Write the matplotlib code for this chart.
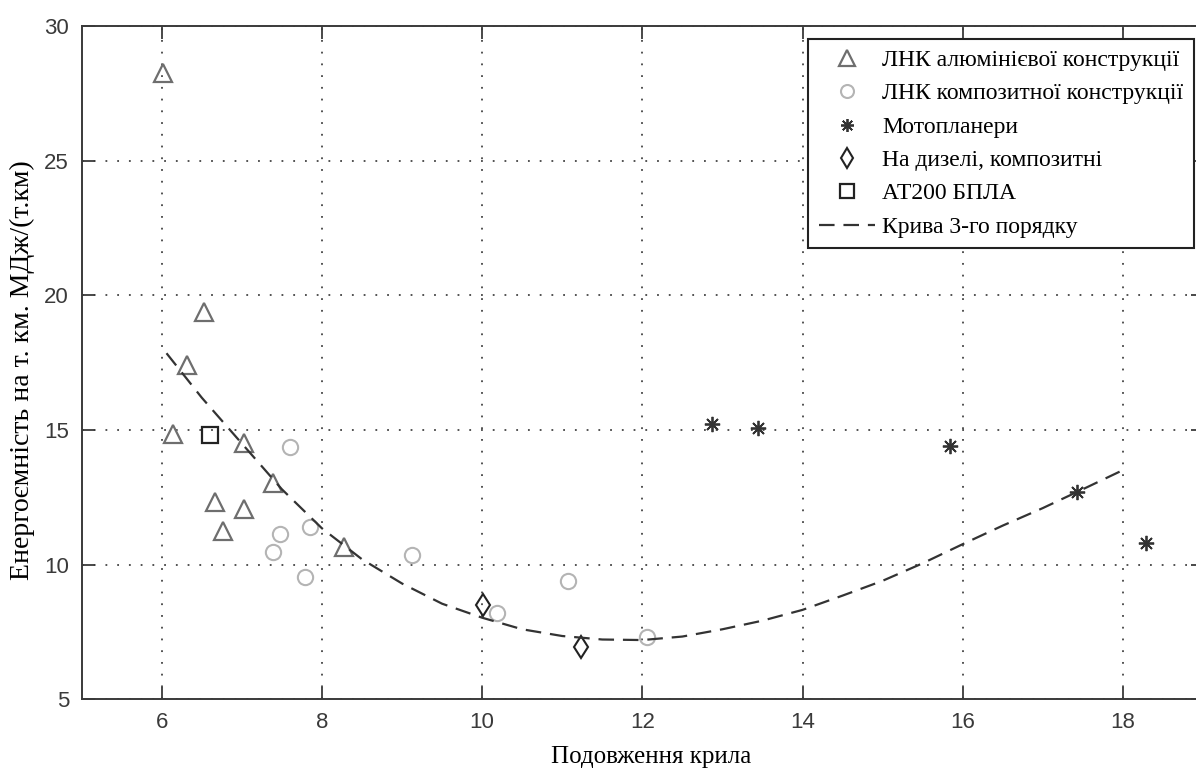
import numpy as np
import matplotlib
matplotlib.use('Agg')
import matplotlib.pyplot as plt

# Data
alu_x = [6.02, 6.53, 6.32, 6.14, 7.03, 6.66, 7.03, 6.76, 7.39, 8.27]
alu_y = [28.25, 19.39, 17.41, 14.84, 14.51, 12.32, 12.06, 11.26, 13.02, 10.64]

comp_x = [7.60, 7.48, 7.39, 7.79, 7.85, 9.13, 10.18, 11.07, 12.06]
comp_y = [14.38, 11.14, 10.48, 9.55, 11.39, 10.37, 8.19, 9.40, 7.32]

glider_x = [12.87, 13.44, 15.84, 17.43, 18.29]
glider_y = [15.21, 15.06, 14.42, 12.71, 10.81]

diesel_x = [10.01, 11.23]
diesel_y = [8.50, 6.95]

uav_x = [6.60]
uav_y = [14.81]

curve_x = [6.06, 6.5, 7.0, 7.5, 8.0, 8.5, 9.0, 9.5, 10.0, 10.5, 11.0, 11.5, 12.0,
           12.5, 13.0, 13.5, 14.0, 14.5, 15.0, 15.5, 16.0, 16.5, 17.0, 17.5, 18.0]
curve_y = [17.85, 16.2, 14.5, 12.8, 11.35, 10.2, 9.3, 8.55, 8.03, 7.6, 7.35, 7.22, 7.2,
           7.33, 7.6, 7.92, 8.32, 8.85, 9.4, 10.05, 10.76, 11.45, 12.1, 12.8, 13.51]

labels = ['ЛНК алюмінієвої конструкції', 'ЛНК композитної конструкції', 'Мотопланери',
          'На дизелі, композитні', 'АТ200 БПЛА', 'Крива 3-го порядку']

serif = 'Liberation Serif'
sans = 'Liberation Sans'

fig = plt.figure(figsize=(11.96, 7.69), dpi=100)
# right spine (x=19) sits just past the image edge, as in the reference
ax = fig.add_axes([81.6 / 1196, 69.7 / 769, (1203 - 81.6) / 1196, (699.3 - 26) / 769])

ax.plot(alu_x, alu_y, ls='none', marker='^', ms=13, mfc='none', mec='#6e6e6e', mew=1.6, label=labels[0])
ax.plot(comp_x, comp_y, ls='none', marker='o', ms=11, mfc='none', mec='#b4b4b4', mew=1.5, label=labels[1])
ax.plot(glider_x, glider_y, ls='none', marker=(8, 2, 0), ms=11, mec='#333333', mew=1.3, label=labels[2])
ax.plot(diesel_x, diesel_y, ls='none', marker='d', ms=11.5, mfc='none', mec='#222222', mew=1.5, label=labels[3])
ax.plot(uav_x, uav_y, ls='none', marker='s', ms=12, mfc='none', mec='#222222', mew=1.6, label=labels[4])
ax.plot(curve_x, curve_y, ls=(0, (7, 4)), color='#333333', lw=1.6, label=labels[5])

ax.set_xlim(5, 19)
ax.set_ylim(5, 30)
ax.set_xticks([6, 8, 10, 12, 14, 16, 18])
ax.set_yticks([5, 10, 15, 20, 25, 30])
ax.grid(True, ls=(0, (1, 5.5)), color='#444444', lw=1.3)
ax.tick_params(direction='in', length=9, width=1.3, top=True, right=True,
               labelsize=16, colors='#3a3a3a', pad=9)
for lab in ax.get_xticklabels() + ax.get_yticklabels():
    lab.set_family(sans)
for s in ax.spines.values():
    s.set_color('#3a3a3a')
    s.set_linewidth(1.4)

ax.set_xlabel('Подовження крила', family=serif, fontsize=18, va='center')
ax.set_ylabel('Енергоємність на т. км. МДж/(т.км)', family=serif, fontsize=20, va='center')
ax.xaxis.set_label_coords((651 - 81.6) / 1121.4, (699.3 - 757) / 673.3)
ax.yaxis.set_label_coords((22 - 81.6) / 1121.4, (699.3 - 370) / 673.3)

leg = ax.legend(loc='upper right', bbox_to_anchor=(1194 / 1196, (769 - 39) / 769),
                bbox_transform=fig.transFigure, borderaxespad=0, fancybox=False,
                framealpha=1, edgecolor='#222222', prop={'family': serif, 'size': 17},
                handlelength=2.4, handletextpad=0.3, labelspacing=0.5, borderpad=0.45,
                markerscale=0.85)
leg.get_frame().set_linewidth(1.5)

fig.savefig('out.png', dpi=100)
